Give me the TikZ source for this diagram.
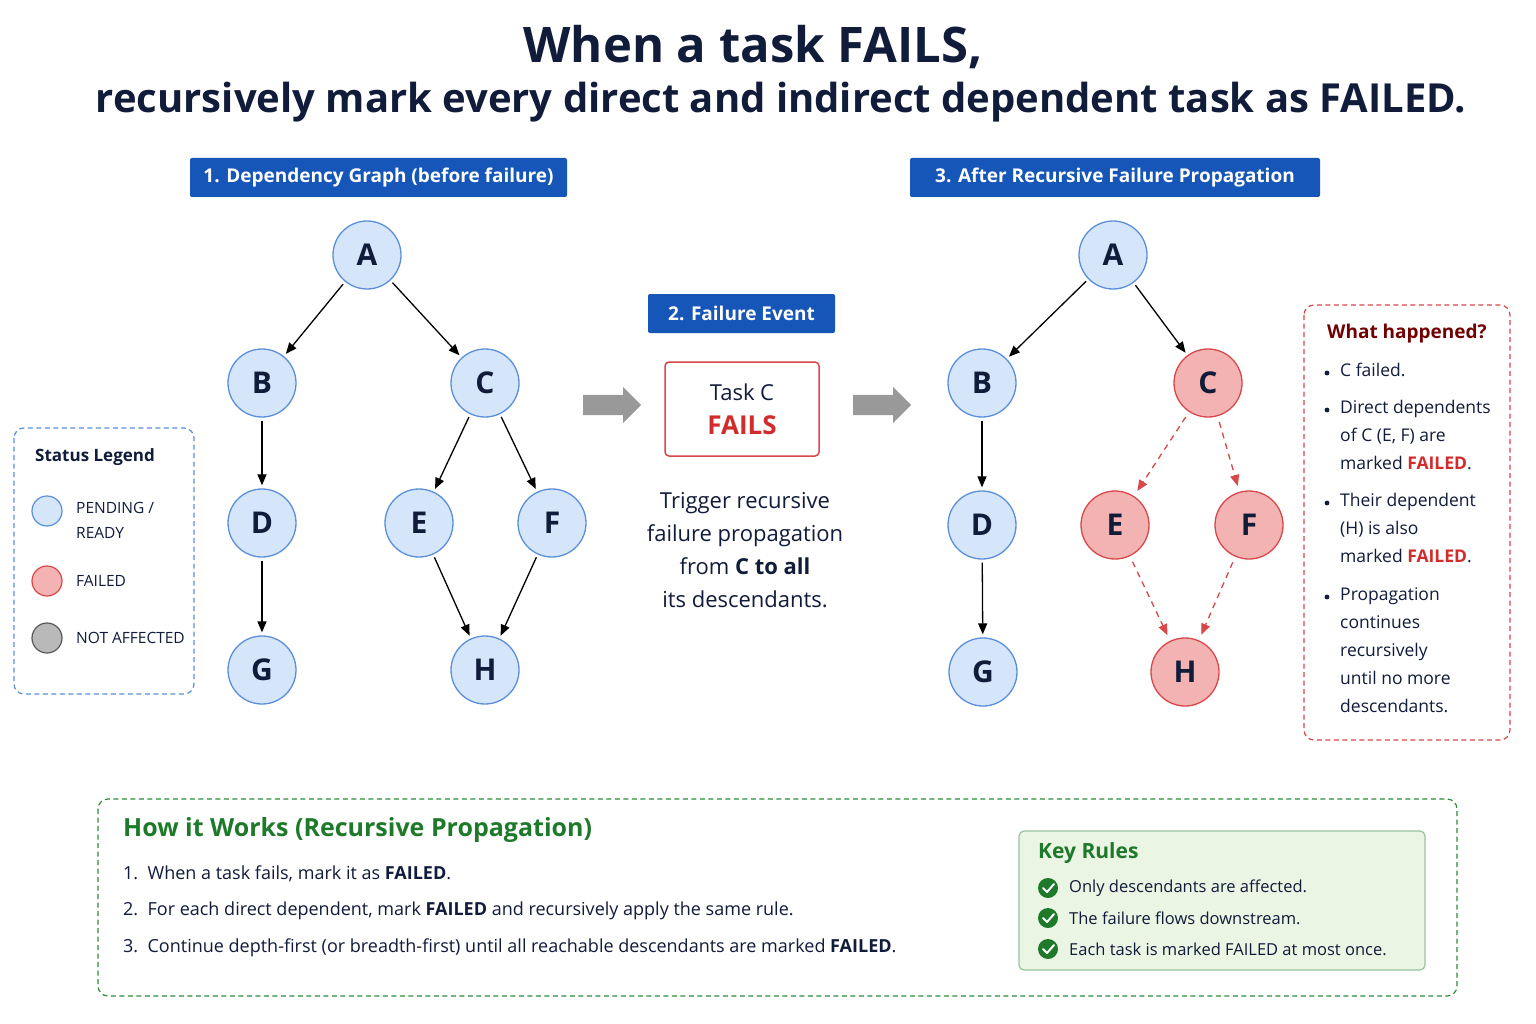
\documentclass[tikz,border=0pt]{standalone}
\usepackage{fontspec}
\setmainfont{Open Sans}
\usetikzlibrary{arrows.meta,shapes.arrows}
\definecolor{navy}{HTML}{111B3A}
\definecolor{bfill}{HTML}{D5E5FA}
\definecolor{bline}{HTML}{5B8FD9}
\definecolor{rfill}{HTML}{F4B3B3}
\definecolor{rline}{HTML}{D8474A}
\definecolor{hdr}{HTML}{1656B8}
\definecolor{gline}{HTML}{2E8B3A}
\definecolor{gtext}{HTML}{1E7A2A}
\definecolor{gfill}{HTML}{EAF5E4}
\definecolor{dred}{HTML}{D12B2B}
\tikzset{
 x=1pt,y=-1pt,
 nd/.style={circle,draw=bline,fill=bfill,line width=1.3pt,minimum size=68pt,inner sep=0pt,font=\fontsize{30}{30}\selectfont\bfseries,text=navy},
 fd/.style={nd,draw=rline,fill=rfill},
 hb/.style={fill=hdr,rounded corners=2pt,text=white,font=\fontsize{19}{24}\selectfont\bfseries,inner sep=0pt,minimum height=39pt},
 ar/.style={-{Triangle[length=11pt,width=9pt]},line width=1.3pt,black},
 rar/.style={-{Triangle[length=11pt,width=9pt]},line width=1.3pt,rline,dash pattern=on 6pt off 5pt},
 gar/.style={single arrow,fill=gray!80,draw=none,minimum height=58pt,minimum width=36pt,single arrow head extend=4pt,inner sep=5pt},
 tx/.style={font=\fontsize{18}{22}\selectfont,text=navy,anchor=west,inner sep=0pt},
 dsh/.style={line width=1.2pt,rounded corners=10pt,dash pattern=on 5pt off 3.5pt},
}
\begin{document}
\begin{tikzpicture}
\useasboundingbox (0,0) rectangle (1536,1024);
\fill[white] (0,0) rectangle (1536,1024);
\node[text=navy,font=\fontsize{49}{56}\selectfont\bfseries] (t1) at (753,47) {When a task FAILS,};
\node[text=navy,font=\fontsize{40}{46}\selectfont\bfseries] (t2) at (781,102) {recursively mark every direct and indirect dependent task as FAILED.};
\node[hb,minimum width=377pt] (h1) at (378.5,177.5) {1. Dependency Graph (before failure)};
\node[hb,minimum width=410pt] (h3) at (1115,177.5) {3. After Recursive Failure Propagation};
\node[hb,minimum width=187pt] (h2) at (741.5,313.5) {2. Failure Event};
% left graph
\node[nd] (A) at (367,255) {A};
\node[nd] (B) at (262,383) {B};
\node[nd] (C) at (485,383) {C};
\node[nd] (D) at (262,523) {D};
\node[nd] (E) at (419,523) {E};
\node[nd] (F) at (552,523) {F};
\node[nd] (G) at (262,670) {G};
\node[nd] (H) at (485,670) {H};
\foreach \a/\b in {A/B,A/C,B/D,D/G,C/E,C/F,E/H,F/H} \draw[ar,shorten <=3pt,shorten >=3pt] (\a) -- (\b);
% right graph
\node[nd] (A2) at (1113,255) {A};
\node[nd] (B2) at (982,383) {B};
\node[fd] (C2) at (1208,383) {C};
\node[nd] (D2) at (982,525) {D};
\node[fd] (E2) at (1115,525) {E};
\node[fd] (F2) at (1249,525) {F};
\node[nd] (G2) at (983,672) {G};
\node[fd] (H2) at (1185,672) {H};
\foreach \a/\b in {A2/B2,A2/C2,B2/D2,D2/G2} \draw[ar,shorten <=3pt,shorten >=3pt] (\a) -- (\b);
\foreach \a/\b in {C2/E2,C2/F2,E2/H2,F2/H2} \draw[rar,shorten <=6pt,shorten >=6pt] (\a) -- (\b);
% middle
\node[gar] (g1) at (607,405) {};
\node[gar] (g2) at (877,405) {};
\node[draw=rline,line width=1.5pt,rounded corners=4pt,minimum width=154pt,minimum height=94pt,inner sep=0pt] (task) at (742,409) {};
\node[text=navy,font=\fontsize{22}{28}\selectfont] (tc) at (742,392) {Task C};
\node[text=dred,font=\fontsize{26}{32}\selectfont\bfseries] (tf) at (742,425) {FAILS};
\node[text=navy,align=center,font=\fontsize{22}{33}\selectfont] (trig) at (745,550) {Trigger recursive\\failure propagation\\from \textbf{C to all}\\its descendants.};
% legend
\draw[draw=bline,dsh] (14,428) rectangle (194,694);
\node[tx,font=\fontsize{17}{20}\selectfont\bfseries] (lt) at (35,457) {Status Legend};
\node[circle,draw=bline,fill=bfill,line width=1.2pt,minimum size=30pt] (l1) at (47,511) {};
\node[circle,draw=rline,fill=rfill,line width=1.2pt,minimum size=30pt] (l2) at (47,581) {};
\node[circle,draw=gray!70!black,fill=gray!55,line width=1.2pt,minimum size=30pt] (l3) at (47,638) {};
\node[tx,font=\fontsize{15.5}{25}\selectfont,align=left] (lp) at (76,520) {PENDING /\\READY};
\node[tx,font=\fontsize{15.5}{20}\selectfont] (lf) at (76,581) {FAILED};
\node[tx,font=\fontsize{15.5}{20}\selectfont] (ln) at (76,638) {NOT AFFECTED};
% what happened
\draw[draw=rline,dsh] (1304,305) rectangle (1510,740);
\node[tx,font=\fontsize{19}{22}\selectfont\bfseries,text=red!45!black] (wht) at (1327,334) {What happened?};
\foreach \y in {373,410,503,597} \fill[navy] (1327,\y) circle (2.4pt);
\node[tx,font=\fontsize{17.5}{28}\selectfont,align=left,anchor=north west] (w1) at (1340,363) {C failed.};
\node[tx,font=\fontsize{17.5}{28}\selectfont,align=left,anchor=north west] (w2) at (1340,400) {Direct dependents\\of C (E, F) are\\marked \textbf{\color{dred}FAILED}.};
\node[tx,font=\fontsize{17.5}{28}\selectfont,align=left,anchor=north west] (w3) at (1340,493) {Their dependent\\(H) is also\\marked \textbf{\color{dred}FAILED}.};
\node[tx,font=\fontsize{17.5}{28}\selectfont,align=left,anchor=north west] (w4) at (1340,587) {Propagation\\continues\\recursively\\until no more\\descendants.};
% bottom
\draw[draw=gline,dsh] (98,799) rectangle (1457,996);
\node[tx,font=\fontsize{25}{30}\selectfont\bfseries,text=gtext] (bt) at (123,830) {How it Works (Recursive Propagation)};
\node[tx] (b1) at (123,874) {1.\ \ When a task fails, mark it as \textbf{FAILED}.};
\node[tx] (b2) at (123,911) {2.\ \ For each direct dependent, mark \textbf{FAILED} and recursively apply the same rule.};
\node[tx] (b3) at (123,948) {3.\ \ Continue depth-first (or breadth-first) until all reachable descendants are marked \textbf{FAILED}.};
\node[draw=gline!50,fill=gfill,line width=1.2pt,rounded corners=5pt,minimum width=406pt,minimum height=139pt] (kr) at (1222,900.5) {};
\node[tx,font=\fontsize{21}{24}\selectfont\bfseries,text=gtext] (krt) at (1038,853) {Key Rules};
\foreach \y/\t in {888/Only descendants are affected.,918/The failure flows downstream.,949/Each task is marked FAILED at most once.}{
 \fill[gtext] (1048,\y) circle (10pt);
 \draw[white,line width=2pt,line cap=round,line join=round] (1043,\y) -- (1047,\y+4) -- (1054,\y-4);
 \node[tx,font=\fontsize{16.5}{20}\selectfont] at (1069,\y) {\t};
}
\end{tikzpicture}
\end{document}
